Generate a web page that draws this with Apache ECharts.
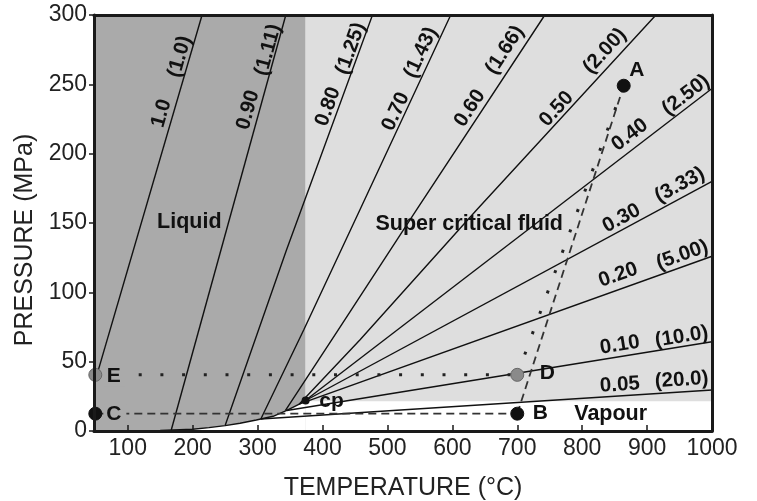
<!DOCTYPE html>
<html>
<head>
<meta charset="utf-8">
<script src="https://cdn.jsdelivr.net/npm/echarts/dist/echarts.min.js"></script>
<style>html,body{margin:0;padding:0;background:#fff}#chart{width:757px;height:501px}</style>
</head>
<body>
<div id="chart"></div>
<script>
// ---------- data ----------
const xTickValues = [100, 200, 300, 400, 500, 600, 700, 800, 900, 1000];
const xRange = [48, 1000];
const yRange = [0, 300];
const criticalTemp = 374;
const criticalPressure = 22;
const supercriticalFloor = 21.5;

// saturation (boiling) curve, °C / MPa
const satCurve = [[100,0.1],[150,0.45],[200,1.3],[225,2.4],[250,3.9],[273,5.6],[298,7.9],[324,10.6],[345,14.8],[365,19.5],[374,22]];

// isochores (density g/cm3, specific volume cm3/g)
const densityLabels = ['1.0','0.90','0.80','0.70','0.60','0.50','0.40','0.30','0.20','0.10','0.05'];
const volumeLabels  = ['(1.0)','(1.11)','(1.25)','(1.43)','(1.66)','(2.00)','(2.50)','(3.33)','(5.00)','(10.0)','(20.0)'];
const iso100 = [[48,33.3],[214.5,300]];
const iso090 = [[167,0.7],[343.5,300]];
const iso080 = [[250,3.9],[344.5,130.6],[477,300]];
const iso070 = [[305,8.7],[371,72.8],[457.5,159.4],[597.5,300]];
const iso060 = [[343,14.8],[424,72.8],[544.8,159.4],[742.5,300]];
const iso050 = [[364,19.3],[457.5,65.6],[637.3,159.4],[913.6,300]];
const iso040 = [[372,21.5],[1000,247]];
const iso030 = [[374,22],[1000,180]];
const iso020 = [[365,19.5],[1000,126]];
const iso010 = [[345,14.8],[1000,64.4]];
const iso005 = [[305,8.7],[1000,29.6]];

// state points
const pointA = [864, 249];
const pointB = [700, 12.5];
const pointC = [50, 12.5];
const pointD = [700, 40.5];
const pointE = [50, 40.5];
const pointCP = [374, 22];

// ---------- chart ----------
const FONT = "'Liberation Sans', Arial, sans-serif";
const INK = '#111';
const LIQUID_GREY = '#aaaaaa';
const isochores = [iso100, iso090, iso080, iso070, iso060, iso050, iso040, iso030, iso020, iso010, iso005];

// label anchors (data coords) and rotation for each isochore label
const densityAnchors = [[151.9,229.1,74],[285.4,231.5,74.4],[408.6,233.9,70],[513,230.3,65],[627,232.7,56.7],[760.6,232.2,47.4],[873.5,213.5,37.3],[860.7,153.4,28.6],[855.5,112.5,19.7],[858.1,62.0,9.1],[858.1,33.2,3.5]];
const volumeAnchors  = [[180.1,269.9,74],[316.2,274.8,74.4],[443.6,275.8,70],[551.5,272.9,65],[680.9,274.8,56.7],[835,274,47.4],[959.8,242.3,37.3],[950.5,177.4,28.6],[954.1,126.9,19.7],[953.2,68.0,9.1],[953.2,36.8,3.5]];

function areaSeries(data, color, z) {
  return {type:'line', data:data, z:z, silent:true, symbol:'none', animation:false,
    lineStyle:{width:0, opacity:0}, areaStyle:{color:color, opacity:1}};
}
function lineSeries(data, style, z) {
  return {type:'line', data:data, z:z, silent:true, symbol:'none', animation:false, lineStyle:style};
}
const boldLabel = {color:INK, fontFamily:FONT, fontWeight:'bold', textBorderWidth:0, opacity:1};
function textSeries(items, fontSize) {
  return {type:'scatter', z:8, silent:true, symbolSize:0, animation:false,
    itemStyle:{color:'rgba(0,0,0,0)', opacity:1},
    label:Object.assign({show:true, position:'inside', fontSize:fontSize}, boldLabel),
    data: items.map(it => ({value:[it[0], it[1]], label:{formatter:it[2], rotate:it[3] || 0}}))};
}
function pointSeries(pt, text, fill, border, offset, bg) {
  const lbl = Object.assign({show:true, position:'inside', offset:offset, formatter:text, fontSize:21}, boldLabel);
  if (bg) { lbl.backgroundColor = bg; lbl.padding = [0, 5, 0, 2]; }
  return {type:'scatter', z:6, silent:true, animation:false, symbol:'circle', symbolSize:13,
    itemStyle:{color:fill, borderColor:border, borderWidth:1, opacity:1},
    label:lbl, data:[pt]};
}

const series = [];
// regions
series.push(areaSeries([[xRange[0], yRange[1]], [criticalTemp, yRange[1]]], LIQUID_GREY, 1));
series.push(areaSeries([[criticalTemp, yRange[1]], [xRange[1], yRange[1]]], '#dedede', 1));
series.push(areaSeries([[criticalTemp, supercriticalFloor], [xRange[1], supercriticalFloor]], '#ffffff', 2));
series.push(areaSeries(satCurve, '#ffffff', 2));
// saturation curve + isochores
series.push(lineSeries(satCurve, {color:INK, width:1.4}, 3));
isochores.forEach(d => series.push(lineSeries(d, {color:INK, width:1.4}, 3)));
// paths
series.push(lineSeries([pointC, pointB], {color:'#333', width:1.8, type:[8,5]}, 4));
series.push(lineSeries([pointB, pointA], {color:'#333', width:1.8, type:[8,5]}, 4));
series.push(lineSeries([pointE, pointD], {color:'#222', width:3, type:[3,18.7]}, 4));
series.push(lineSeries([pointD, pointA], {color:'#222', width:3, type:[3,18.7]}, 4));
// points
series.push(pointSeries(pointA, 'A', INK, INK, [13,-16]));
series.push(pointSeries(pointB, 'B', INK, INK, [23,0]));
series.push(pointSeries(pointC, 'C', INK, INK, [20,1], LIQUID_GREY));
series.push(pointSeries(pointD, 'D', '#8a8a8a', '#666', [30,-2]));
series.push(pointSeries(pointE, 'E', '#8a8a8a', '#666', [20,1], LIQUID_GREY));
series.push({type:'scatter', z:6, silent:true, animation:false, symbol:'circle', symbolSize:8,
  itemStyle:{color:INK, opacity:1},
  label:Object.assign({show:true, position:'inside', offset:[26,1], formatter:'cp', fontSize:21}, boldLabel),
  data:[pointCP]});
// isochore labels
series.push(textSeries(densityAnchors.map((a,i) => [a[0], a[1], densityLabels[i], a[2]]), 20.5));
series.push(textSeries(volumeAnchors.map((a,i) => [a[0], a[1], volumeLabels[i], a[2]]), 20.5));
// region labels
series.push(textSeries([[194.8,150.7,'Liquid'],[626,149.3,'Super critical fluid'],[843.9,12.3,'Vapour']], 21.5));

const frameLine = {show:true, onZero:false, lineStyle:{color:'#1a1a1a', width:3}};
const option = {
  animation:false,
  backgroundColor:'#ffffff',
  grid:{left:94, right:45, top:15, bottom:70, containLabel:false, outerBoundsMode:'none'},
  xAxis:[
    {type:'value', min:xRange[0], max:xRange[1], position:'bottom', z:10,
     axisLine:frameLine,
     axisTick:{show:true, inside:true, length:6, customValues:xTickValues, lineStyle:{color:'#1a1a1a', width:1.5}},
     axisLabel:{customValues:xTickValues, formatter:v => String(v), fontSize:23, color:'#222', margin:6, fontFamily:FONT},
     splitLine:{show:false},
     name:'TEMPERATURE (°C)', nameLocation:'middle', nameGap:45,
     nameTextStyle:{fontSize:25, color:'#222', fontFamily:FONT}},
    {type:'value', min:xRange[0], max:xRange[1], position:'top', z:10,
     axisLine:frameLine, axisTick:{show:false}, axisLabel:{show:false}, splitLine:{show:false}}
  ],
  yAxis:[
    {type:'value', min:yRange[0], max:yRange[1], interval:50, position:'left', z:10,
     axisLine:frameLine,
     axisTick:{show:true, inside:false, length:5, lineStyle:{color:'#1a1a1a', width:1.5}},
     axisLabel:{formatter:v => String(v), fontSize:23, color:'#222', margin:7, fontFamily:FONT},
     splitLine:{show:false},
     name:'PRESSURE (MPa)', nameLocation:'middle', nameGap:54,
     nameTextStyle:{fontSize:25, color:'#222', fontFamily:FONT, padding:[0,34,0,0]}},
    {type:'value', min:yRange[0], max:yRange[1], position:'right', z:10,
     axisLine:frameLine, axisTick:{show:false}, axisLabel:{show:false}, splitLine:{show:false}}
  ],
  series:series
};
const chart = echarts.init(document.getElementById('chart'), null, {renderer:'canvas'});
chart.setOption(option);
</script>
</body>
</html>
